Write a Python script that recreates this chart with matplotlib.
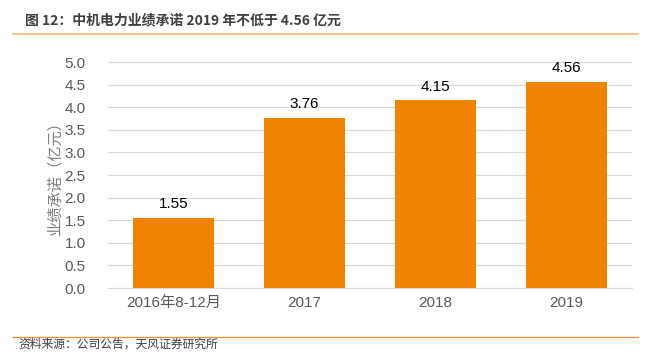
import matplotlib
matplotlib.use("Agg")
import matplotlib.pyplot as plt
from matplotlib.lines import Line2D

plt.rcParams['font.family'] = ['Noto Sans CJK SC', 'DejaVu Sans']

# data
categories = ['2016年8-12月', '2017', '2018', '2019']
values = [1.55, 3.76, 4.15, 4.56]
yticks = [0.0, 0.5, 1.0, 1.5, 2.0, 2.5, 3.0, 3.5, 4.0, 4.5, 5.0]

bar_color = '#F08300'
text_gray = '#595959'

fig = plt.figure(figsize=(6.48, 3.52), dpi=100)
ax = fig.add_axes([0.1667, 0.1818, 0.8083, 0.642])

x = range(len(categories))
bars = ax.bar(x, values, width=0.62, color=bar_color, zorder=3)
for xi, v in zip(x, values):
    ax.text(xi, v + 0.15, f'{v:.2f}', ha='center', va='bottom', fontsize=11,
            family=['Liberation Sans', 'DejaVu Sans'], color='black')

ax.set_xlim(-0.5, len(categories) - 0.5)
ax.set_ylim(0, 5.0)
ax.set_yticks(yticks)
ax.set_yticklabels([f'{t:.1f}' for t in yticks], family=['Liberation Sans', 'DejaVu Sans'])
ax.set_xticks(list(x))
ax.set_xticklabels(categories, family=['Liberation Sans', 'Noto Sans CJK SC'])
ax.tick_params(axis='both', length=0, labelsize=11, colors=text_gray)
ax.tick_params(axis='y', pad=16)
ax.tick_params(axis='x', pad=6)
ax.yaxis.grid(True, color='#D9D9D9', linewidth=0.8, zorder=0)
for s in ['top', 'right', 'left']:
    ax.spines[s].set_visible(False)
ax.spines['bottom'].set_color('#D9D9D9')
ax.set_ylabel('业绩承诺（亿元）', fontsize=11, color='#7F7F7F', labelpad=1)

# title and frame lines
fig.text(25 / 648, 1 - 20 / 352, '图 12：中机电力业绩承诺 2019 年不低于 4.56 亿元', fontsize=10,
         color='#404040', fontweight='bold', va='center', ha='left')
fig.add_artist(Line2D([13 / 648, 638 / 648], [1 - 34 / 352, 1 - 34 / 352], color='#F8B87A', linewidth=1.2))
fig.add_artist(Line2D([13 / 648, 638 / 648], [1 - 337 / 352, 1 - 337 / 352], color='#E8913F', linewidth=1.0))
fig.text(18 / 648, 1 - 351 / 352, '资料来源：公司公告，天风证券研究所', fontsize=8.5, color='#404040', va='bottom', ha='left')

fig.savefig('out.png', dpi=100)
